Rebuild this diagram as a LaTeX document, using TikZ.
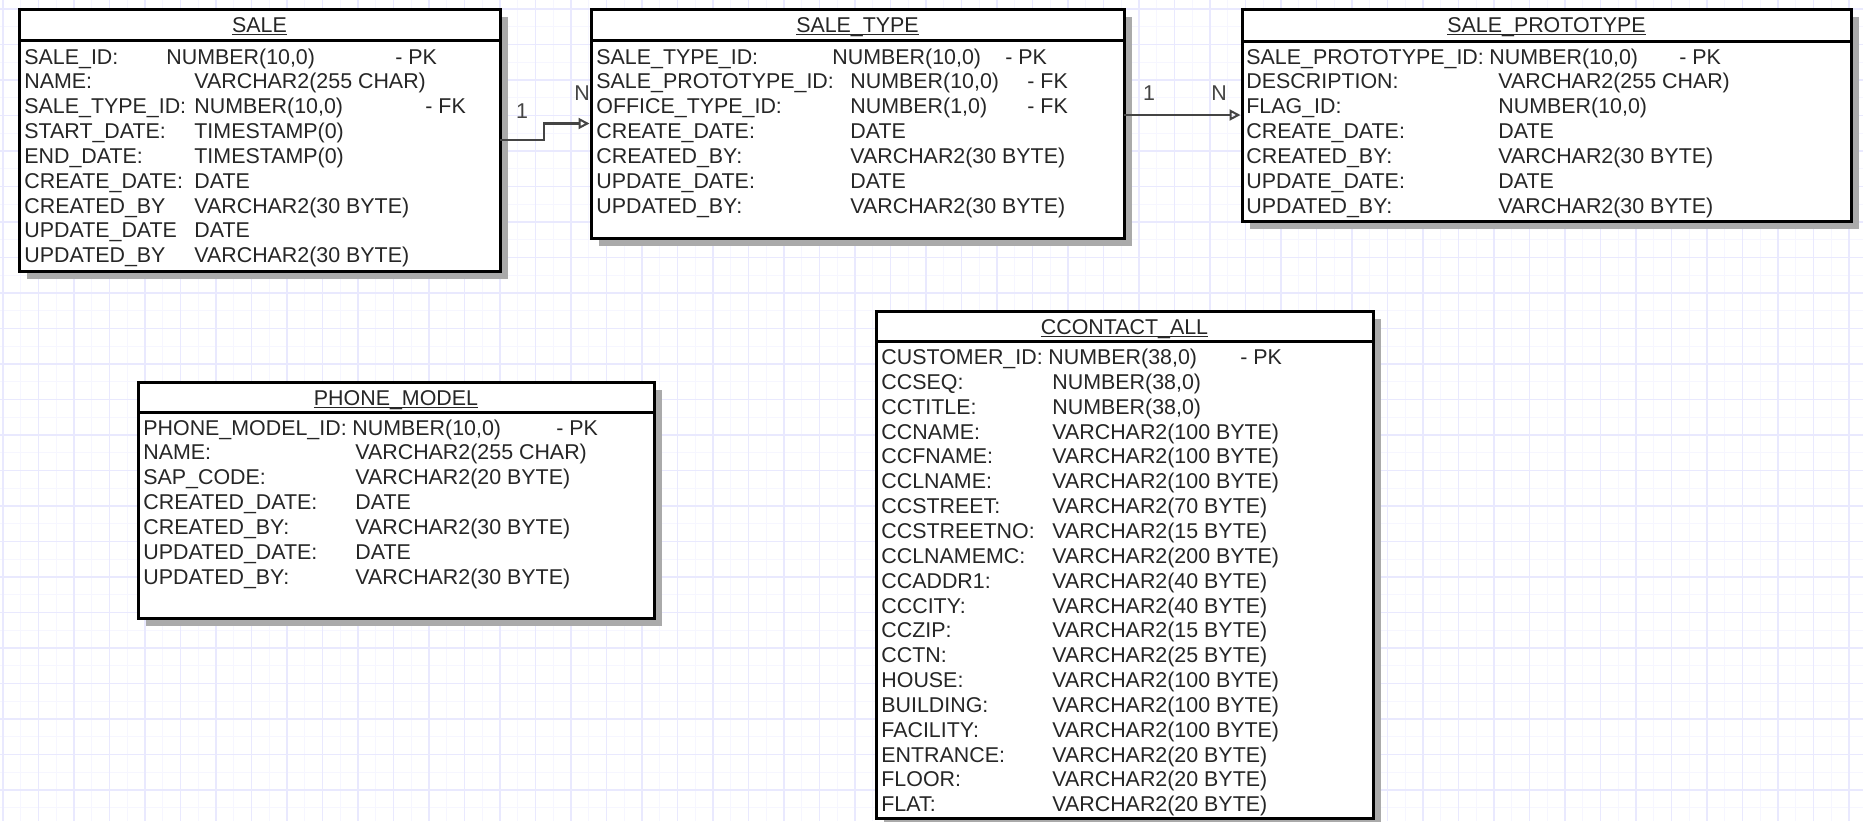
\documentclass[tikz,border=0pt]{standalone}
\usepackage{fontspec}
\setmainfont{Liberation Sans}
\usepackage{xcolor}
\usetikzlibrary{positioning,arrows.meta,shadows}

\definecolor{gridlo}{RGB}{246,246,255}
\definecolor{gridhi}{RGB}{233,233,254}
\definecolor{shade}{RGB}{170,170,170}
\definecolor{ink}{RGB}{38,38,38}
\definecolor{wire}{RGB}{68,68,68}

\newcommand\erfont{\fontsize{10.7}{13}\selectfont}
\newcommand\tname[1]{\underline{\smash{#1}}}

\begin{document}
\begin{tikzpicture}[
    x=0.5pt, y=-0.5pt,
    tbl/.style={draw=black, line width=1.5pt, fill=white, rectangle, anchor=north west, inner sep=0pt, outer sep=0pt,
        drop shadow={shadow xshift=4pt, shadow yshift=-4pt, fill=shade, opacity=1}},
    hdr/.style={draw=black, line width=1.5pt},
    title/.style={anchor=base, inner sep=0pt, text=ink, font=\erfont},
    fld/.style={anchor=base west, inner sep=0pt, text=ink, font=\erfont},
    card/.style={anchor=center, inner sep=0pt, text=wire, font=\erfont},
    link/.style={draw=wire, line width=1.2pt, -{Triangle[open, length=5.5pt, width=5.5pt, line width=1pt]}, shorten >=0.75pt},
    gridminor/.style={draw=gridlo, line width=0.5pt},
    gridmajor/.style={draw=gridhi, line width=0.7pt}
]
\useasboundingbox (0,0) rectangle (1863,821);
\fill[white] (0,0) rectangle (1863,821);

% grid
\foreach \k in {0,...,52} \draw[gridminor] ({20.55+35.5*\k},0) -- ++(0,821);
\foreach \k in {0,...,22} \draw[gridminor] (0,{26.55+35.5*\k}) -- ++(1863,0);
\foreach \k in {0,...,52} \draw[gridmajor] ({2.8+35.5*\k},0) -- ++(0,821);
\foreach \k in {0,...,22} \draw[gridmajor] (0,{8.8+35.5*\k}) -- ++(1863,0);

% SALE
\node[tbl, minimum width=240.5pt, minimum height=131pt] (sale) at (19,9) {};
\draw[hdr] ([yshift=-15.5pt]sale.north west) -- ([yshift=-15.5pt]sale.north east);
\node[title] (sale-ttl) at ([yshift=-11.5pt]sale.north) {\tname{SALE}};
\node[fld] (sale-n0) at (24,64) {SALE\_ID:};
\node[fld] (sale-d0) at (166,64) {NUMBER(10,0)};
\node[fld] (sale-k0) at (395,64) {- PK};
\foreach \n/\d [count=\i] in {NAME:/VARCHAR2(255 CHAR), SALE\_TYPE\_ID:/{NUMBER(10,0)},
    START\_DATE:/TIMESTAMP(0), END\_DATE:/TIMESTAMP(0), CREATE\_DATE:/DATE,
    CREATED\_BY/VARCHAR2(30 BYTE), UPDATE\_DATE/DATE, UPDATED\_BY/VARCHAR2(30 BYTE)} {
  \node[fld] (sale-n\i) at (24,{64+24.85*\i}) {\n};
  \node[fld] (sale-d\i) at (194,{64+24.85*\i}) {\d};
}
\node[fld] (sale-k2) at (425,{64+24.85*2}) {- FK};

% SALE_TYPE
\node[tbl, minimum width=266.5pt, minimum height=114.5pt] (stype) at (591,9) {};
\draw[hdr] ([yshift=-15.5pt]stype.north west) -- ([yshift=-15.5pt]stype.north east);
\node[title] (stype-ttl) at ([yshift=-11.5pt]stype.north) {\tname{SALE\_TYPE}};
\node[fld] (stype-n0) at (596,64) {SALE\_TYPE\_ID:};
\node[fld] (stype-d0) at (832,64) {NUMBER(10,0)};
\node[fld] (stype-k0) at (1005,64) {- PK};
\foreach \n/\d [count=\i] in {SALE\_PROTOTYPE\_ID:/{NUMBER(10,0)}, OFFICE\_TYPE\_ID:/{NUMBER(1,0)},
    CREATE\_DATE:/DATE, CREATED\_BY:/VARCHAR2(30 BYTE), UPDATE\_DATE:/DATE, UPDATED\_BY:/VARCHAR2(30 BYTE)} {
  \node[fld] (stype-n\i) at (596,{64+24.85*\i}) {\n};
  \node[fld] (stype-d\i) at (850,{64+24.85*\i}) {\d};
}
\node[fld] (stype-k1) at (1027,{64+24.85}) {- FK};
\node[fld] (stype-k2) at (1027,{64+24.85*2}) {- FK};

% SALE_PROTOTYPE
\node[tbl, minimum width=304.5pt, minimum height=106pt] (sproto) at (1242,9) {};
\draw[hdr] ([yshift=-16pt]sproto.north west) -- ([yshift=-16pt]sproto.north east);
\node[title] (sproto-ttl) at ([yshift=-11.5pt]sproto.north) {\tname{SALE\_PROTOTYPE}};
\node[fld] (sproto-n0) at (1246,64) {SALE\_PROTOTYPE\_ID:};
\node[fld] (sproto-d0) at (1489,64) {NUMBER(10,0)};
\node[fld] (sproto-k0) at (1679,64) {- PK};
\foreach \n/\d [count=\i] in {DESCRIPTION:/VARCHAR2(255 CHAR), FLAG\_ID:/{NUMBER(10,0)},
    CREATE\_DATE:/DATE, CREATED\_BY:/VARCHAR2(30 BYTE), UPDATE\_DATE:/DATE, UPDATED\_BY:/VARCHAR2(30 BYTE)} {
  \node[fld] (sproto-n\i) at (1246,{64+24.85*\i}) {\n};
  \node[fld] (sproto-d\i) at (1498,{64+24.85*\i}) {\d};
}

% PHONE_MODEL
\node[tbl, minimum width=258pt, minimum height=118pt] (phone) at (138,382) {};
\draw[hdr] ([yshift=-15pt]phone.north west) -- ([yshift=-15pt]phone.north east);
\node[title] (phone-ttl) at ([yshift=-11.5pt]phone.north) {\tname{PHONE\_MODEL}};
\node[fld] (phone-n0) at (143,435) {PHONE\_MODEL\_ID:};
\node[fld] (phone-d0) at (352,435) {NUMBER(10,0)};
\node[fld] (phone-k0) at (556,435) {- PK};
\foreach \n/\d [count=\i] in {NAME:/VARCHAR2(255 CHAR), SAP\_CODE:/VARCHAR2(20 BYTE),
    CREATED\_DATE:/DATE, CREATED\_BY:/VARCHAR2(30 BYTE), UPDATED\_DATE:/DATE, UPDATED\_BY:/VARCHAR2(30 BYTE)} {
  \node[fld] (phone-n\i) at (143,{435+24.85*\i}) {\n};
  \node[fld] (phone-d\i) at (355,{435+24.85*\i}) {\d};
}

% CCONTACT_ALL
\node[tbl, minimum width=248.5pt, minimum height=253.5pt] (contact) at (876,311) {};
\draw[hdr] ([yshift=-15pt]contact.north west) -- ([yshift=-15pt]contact.north east);
\node[title] (contact-ttl) at ([yshift=-11.5pt]contact.north) {\tname{CCONTACT\_ALL}};
\node[fld] (contact-n0) at (881,364.5) {CUSTOMER\_ID:};
\node[fld] (contact-d0) at (1048,364.5) {NUMBER(38,0)};
\node[fld] (contact-k0) at (1240,364.5) {- PK};
\foreach \n/\d [count=\i] in {CCSEQ:/{NUMBER(38,0)}, CCTITLE:/{NUMBER(38,0)},
    CCNAME:/VARCHAR2(100 BYTE), CCFNAME:/VARCHAR2(100 BYTE), CCLNAME:/VARCHAR2(100 BYTE),
    CCSTREET:/VARCHAR2(70 BYTE), CCSTREETNO:/VARCHAR2(15 BYTE), CCLNAMEMC:/VARCHAR2(200 BYTE),
    CCADDR1:/VARCHAR2(40 BYTE), CCCITY:/VARCHAR2(40 BYTE), CCZIP:/VARCHAR2(15 BYTE),
    CCTN:/VARCHAR2(25 BYTE), HOUSE:/VARCHAR2(100 BYTE), BUILDING:/VARCHAR2(100 BYTE),
    FACILITY:/VARCHAR2(100 BYTE), ENTRANCE:/VARCHAR2(20 BYTE), FLOOR:/VARCHAR2(20 BYTE),
    FLAT:/VARCHAR2(20 BYTE)} {
  \node[fld] (contact-n\i) at (881,{364.5+24.85*\i}) {\n};
  \node[fld] (contact-d\i) at (1052,{364.5+24.85*\i}) {\d};
}

% relations
\draw[link] (sale.east) -- ++(44,0) |- (stype.west);
\draw[link] (stype.east |- sproto.west) -- (sproto.west);
\node[card] (r1-one) at (522,111) {1};
\node[card] (r1-many) at (582,93) {N};
\node[card] (r2-one) at (1149,93) {1};
\node[card] (r2-many) at (1219,93) {N};

\end{tikzpicture}
\end{document}
